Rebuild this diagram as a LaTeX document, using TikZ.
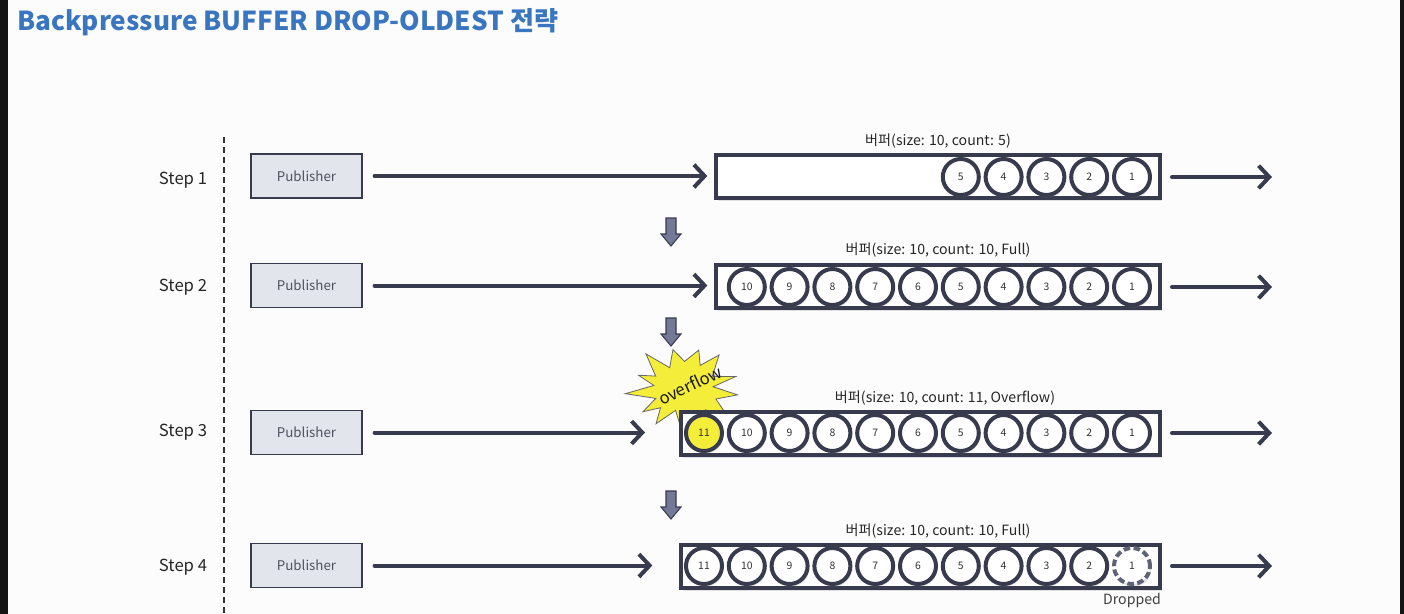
\documentclass[tikz,border=0pt]{standalone}
\usepackage{fontspec}
\setmainfont{Noto Sans CJK KR}
\usetikzlibrary{positioning,arrows.meta,shadows}

\definecolor{inkC}{HTML}{373B4D}
\definecolor{pubF}{HTML}{E3E5EC}
\definecolor{pubT}{HTML}{4E525E}
\definecolor{titleC}{HTML}{3A76BF}
\definecolor{downF}{HTML}{727A98}
\definecolor{starY}{HTML}{F4EE3A}
\definecolor{dropC}{HTML}{5E6376}
\definecolor{bgC}{HTML}{FCFCFC}
\definecolor{edgeC}{HTML}{141414}

\tikzset{
  steplabel/.style={font=\fontsize{12.5}{15}\selectfont, text=black!85},
  pubbox/.style={draw=inkC, line width=1.1pt, fill=pubF, minimum width=83pt,
    minimum height=33pt, inner sep=0pt, font=\fontsize{10}{12}\selectfont, text=pubT},
  buffer/.style={draw=inkC, line width=3pt, fill=white, inner sep=0pt,
    drop shadow={opacity=.22, shadow xshift=1.5pt, shadow yshift=-2.5pt}},
  buflabel/.style={font=\fontsize{10.6}{12}\selectfont, text=black!85, inner sep=1pt},
  ball/.style={circle, draw=inkC, line width=3pt, fill=white, minimum size=27pt,
    inner sep=0pt, font=\fontsize{7.8}{9}\selectfont, text=black!80,
    drop shadow={opacity=.22, shadow xshift=1pt, shadow yshift=-2pt}},
  dropball/.style={ball, draw=dropC, dash pattern=on 5pt off 2.5pt},
  flow/.style={draw=inkC, line width=3pt, line cap=round,
    -{Straight Barb[length=8pt,width=17pt]}},
  downarr/.style={draw=inkC, line width=0.8pt, fill=downF},
  burststyle/.style={fill=starY, draw=black!60, line width=0.6pt, line join=miter},
  sepline/.style={draw=black!80, line width=0.9pt, dash pattern=on 4.5pt off 3pt}
}

\begin{document}
\begin{tikzpicture}[x=0.75pt,y=-0.75pt]
\useasboundingbox (0,0) rectangle (1404,614);
% background and side bars
\fill[bgC] (0,0) rectangle (1404,614);
\fill[edgeC] (0,0) rectangle (8,614);
\fill[edgeC] (1400,0) rectangle (1404,614);

\node[anchor=base west, inner sep=0pt, text=titleC,
  font=\fontsize{19.6}{24}\selectfont\bfseries] (title) at (17,31)
  {Backpressure BUFFER DROP-OLDEST 전략};

% separator
\draw[sepline] (224,137) -- (224,614);

% step labels
\node[steplabel] (st1) at (183,180) {Step 1};
\node[steplabel] (st2) at (183,287) {Step 2};
\node[steplabel] (st3) at (183,432) {Step 3};
\node[steplabel] (st4) at (183,567) {Step 4};

% publishers
\node[pubbox] (pub1) at (306.5,176) {Publisher};
\node[pubbox] (pub2) at (306.5,285.5) {Publisher};
\node[pubbox] (pub3) at (306.5,432.5) {Publisher};
\node[pubbox] (pub4) at (306.5,565.5) {Publisher};

% overflow burst (behind buffer 3)
\draw[burststyle] plot[variable=\j, samples at={0,...,25}]
  ({684+(mod(\j,2)==0 ? 54+5*sin(\j*97) : 32+3*sin(\j*53))*cos(\j*13.846+8)},
   {389+(mod(\j,2)==0 ? 42+5*sin(\j*71) : 25+3*sin(\j*41))*sin(\j*13.846+8)}) -- cycle;
\node[rotate=25, font=\fontsize{12.5}{14}\selectfont, text=black!90] (ovf) at (690,385) {overflow};

% buffers
\node[buffer, minimum width=333pt, minimum height=32.25pt] (buf1) at (938,176.5) {};
\node[buffer, minimum width=333pt, minimum height=32.25pt] (buf2) at (938,286.5) {};
\node[buffer, minimum width=359.25pt, minimum height=32.25pt] (buf3) at (920.5,433.5) {};
\node[buffer, minimum width=359.25pt, minimum height=32.25pt] (buf4) at (920.5,566.5) {};

\node[buflabel] (lab1) at (938,141) {버퍼(size: 10, count: 5)};
\node[buflabel] (lab2) at (938,250) {버퍼(size: 10, count: 10, Full)};
\node[buflabel] (lab3) at (945,398) {버퍼(size: 10, count: 11, Overflow)};
\node[buflabel] (lab4) at (938,531) {버퍼(size: 10, count: 10, Full)};

% items
\foreach \k in {1,...,5}
  \node[ball] (a\k) at ({1132-(\k-1)*42.8},177) {\k};
\foreach \k in {1,...,10}
  \node[ball] (b\k) at ({1132-(\k-1)*42.8},287) {\k};
\foreach \k in {1,...,10}
  \node[ball] (c\k) at ({1132-(\k-1)*42.8},433) {\k};
\node[ball, fill=starY] (c11) at (704,433) {11};
\foreach \k in {2,...,11}
  \node[ball] (d\k) at ({1132-(\k-1)*42.8},566) {\k};
\node[dropball] (d1) at (1132,566) {1};
\node[buflabel, below=4pt of d1, text=black!75] (drop) {Dropped};

% flows in
\draw[flow, shorten <=9pt, shorten >=5pt] (pub1.east) -- (pub1.east -| buf1.west);
\draw[flow, shorten <=9pt, shorten >=5pt] (pub2.east) -- (pub2.east -| buf2.west);
\draw[flow, shorten <=9pt, shorten >=25.5pt] (pub3.east) -- (pub3.east -| buf3.west);
\draw[flow, shorten <=9pt, shorten >=20pt] (pub4.east) -- (pub4.east -| buf4.west);

% flows out
\coordinate (out1) at (1272,177);
\coordinate (out2) at (1272,287);
\coordinate (out3) at (1272,433);
\coordinate (out4) at (1272,566);
\foreach \i in {1,...,4}
  \draw[flow, shorten <=7.5pt] (buf\i.east |- out\i) -- (out\i);

% step arrows
\foreach \t in {218,318,491}
  \draw[downarr] (666,\t) -- ++(10,0) -- ++(0,16) -- ++(5,0) -- ++(-10,12)
    -- ++(-10,-12) -- ++(5,0) -- cycle;

\end{tikzpicture}
\end{document}
